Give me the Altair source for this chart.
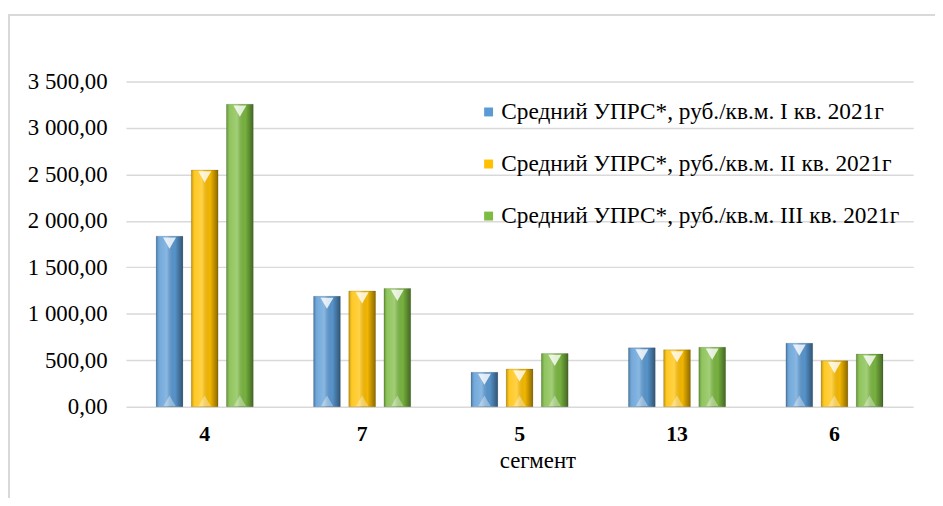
import altair as alt
import pandas as pd

categories = ["4", "7", "5", "13", "6"]
series = [
    "Средний УПРС*, руб./кв.м. I кв. 2021г",
    "Средний УПРС*, руб./кв.м. II кв. 2021г",
    "Средний УПРС*, руб./кв.м. III кв. 2021г",
]
q1 = [1835, 1188, 370, 633, 683]
q2 = [2547, 1245, 405, 612, 494]
q3 = [3255, 1273, 573, 640, 566]
colors = ["#5B9BD5", "#FFC000", "#7DBB42"]
y_ticks = [0, 500, 1000, 1500, 2000, 2500, 3000, 3500]

rows = []
for s, vals in zip(series, [q1, q2, q3]):
    for c, v in zip(categories, vals):
        rows.append({"segment": c, "series": s, "value": v, "zero": 0})
df = pd.DataFrame(rows)

FONT = "'Liberation Serif', 'Times New Roman', 'DejaVu Serif', serif"

x_enc = alt.X(
    "segment:N",
    sort=categories,
    scale=alt.Scale(paddingInner=0, paddingOuter=0),
    axis=alt.Axis(
        title="сегмент",
        labelAngle=0,
        labelFont=FONT,
        labelFontSize=22,
        labelFontWeight="bold",
        labelColor="#000000",
        labelPadding=17,
        ticks=False,
        domain=False,
        titleFont=FONT,
        titleFontSize=23,
        titleFontWeight="normal",
        titleColor="#000000",
        titlePadding=5,
        titleX=415,
    ),
)
xo_enc = alt.XOffset(
    "series:N", sort=series, scale=alt.Scale(paddingInner=0.24, paddingOuter=0.858)
)
y_enc = alt.Y(
    "value:Q",
    scale=alt.Scale(domain=[0, 3500], nice=False),
    axis=alt.Axis(
        title=None,
        values=y_ticks,
        grid=True,
        gridColor="#d9d9d9",
        gridWidth=1.5,
        domain=False,
        ticks=False,
        labelFont=FONT,
        labelFontSize=23,
        labelColor="#000000",
        labelPadding=19,
        labelExpr="replace(replace(format(datum.value, ',.2f'), ',', ' '), '.', ',')",
    ),
)

base = alt.Chart(df)

bars = base.mark_bar().encode(
    x=x_enc,
    xOffset=xo_enc,
    y=y_enc,
    color=alt.Color(
        "series:N",
        sort=series,
        scale=alt.Scale(domain=series, range=colors),
        legend=alt.Legend(
            title=None,
            orient="none",
            legendX=354,
            legendY=19,
            labelFont=FONT,
            labelFontSize=23.5,
            labelColor="#000000",
            labelLimit=0,
            symbolType="square",
            symbolSize=81,
            symbolStrokeWidth=0,
            rowPadding=27.5,
            labelOffset=1,
        ),
    ),
)

shade = base.mark_bar(
    color=alt.Gradient(
        gradient="linear",
        x1=0, x2=1, y1=0, y2=0,
        stops=[
            alt.GradientStop(color="rgba(0,0,0,0.25)", offset=0),
            alt.GradientStop(color="rgba(255,255,255,0.15)", offset=0.12),
            alt.GradientStop(color="rgba(255,255,255,0.28)", offset=0.4),
            alt.GradientStop(color="rgba(0,0,0,0.05)", offset=0.7),
            alt.GradientStop(color="rgba(0,0,0,0.45)", offset=1),
        ],
    ),
    stroke="rgba(0,0,0,0.15)",
    strokeWidth=0.8,
).encode(x=x_enc, xOffset=xo_enc, y=y_enc)

top = base.mark_point(
    shape="triangle-down", filled=True, color="white", opacity=0.8, size=170, yOffset=7
).encode(x=x_enc, xOffset=xo_enc, y=y_enc)

bottom = base.mark_point(
    shape="triangle-up", filled=True, color="white", opacity=0.35, size=150, yOffset=-6
).encode(x=x_enc, xOffset=xo_enc, y=alt.Y("zero:Q"))

frame = alt.Chart(pd.DataFrame({"a": [0]})).mark_rect(
    fillOpacity=0, stroke="#d9d9d9", strokeWidth=2
).encode(
    x=alt.value(-118), x2=alt.value(900), y=alt.value(-67), y2=alt.value(520)
)

chart = (
    alt.layer(frame, bars, shade, top, bottom)
    .properties(
        width=794,
        height=328,
        autosize=alt.AutoSizeParams(type="none"),
        padding={"left": 119, "top": 72, "right": 22, "bottom": 90},
        background="white",
    )
    .configure_view(stroke=None)
)

chart.save("out.html", embed_options={"renderer": "svg", "actions": False})
